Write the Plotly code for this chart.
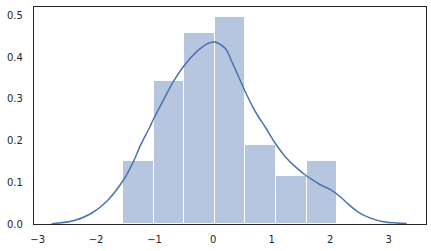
import plotly.graph_objects as go

# Histogram (density)
bin_edges = [-1.54, -1.017, -0.494, 0.029, 0.551, 1.074, 1.597, 2.12]
bar_density = [0.152, 0.342, 0.457, 0.495, 0.190, 0.114, 0.152]

# KDE curve points
kde_x = [-2.76, -2.39, -2.10, -1.82, -1.53, -1.36, -1.25, -1.08, -1.02, -0.85, -0.68,
         -0.51, -0.28, -0.11, 0.0, 0.034, 0.205, 0.32, 0.433, 0.547, 0.662, 0.775,
         0.889, 1.06, 1.23, 1.40, 1.57, 1.74, 1.83, 2.00, 2.17, 2.34, 2.51, 2.69,
         2.91, 3.14, 3.31]
kde_y = [0.0008, 0.008, 0.024, 0.054, 0.106, 0.150, 0.186, 0.233, 0.251, 0.297, 0.341,
         0.377, 0.413, 0.431, 0.436, 0.436, 0.421, 0.389, 0.354, 0.318, 0.285, 0.257,
         0.233, 0.194, 0.162, 0.138, 0.118, 0.102, 0.094, 0.083, 0.066, 0.044, 0.026,
         0.014, 0.0055, 0.0024, 0.0014]

x_ticks = [-3, -2, -1, 0, 1, 2, 3]
y_ticks = [0.0, 0.1, 0.2, 0.3, 0.4, 0.5]

centers = [(a + b) / 2 for a, b in zip(bin_edges[:-1], bin_edges[1:])]
widths = [b - a for a, b in zip(bin_edges[:-1], bin_edges[1:])]

fig = go.Figure()
fig.add_trace(go.Bar(
    x=centers, y=bar_density, width=widths,
    marker=dict(color="#B7C6DF", line=dict(color="white", width=1)),
    hoverinfo="skip",
))
fig.add_trace(go.Scatter(
    x=kde_x, y=kde_y, mode="lines", line=dict(color="#4C72B0", width=1.5, shape="spline"),
))

def fmt(v):
    s = f"{v:g}"
    return s.replace("-", "\u2212")

fig.update_layout(
    width=431, height=251,
    margin=dict(l=34, r=5, t=7, b=27),
    paper_bgcolor="white", plot_bgcolor="white",
    showlegend=False, bargap=0,
    font=dict(family="DejaVu Sans", size=10, color="#262626"),
    xaxis=dict(range=[-3.062, 3.64], tickvals=x_ticks, ticktext=[fmt(v) for v in x_ticks],
               showgrid=False, zeroline=False, showline=True, linecolor="#262626",
               linewidth=1.4, mirror=True, ticks="", ticklabelstandoff=6),
    yaxis=dict(range=[0, 0.52], tickvals=y_ticks, ticktext=[f"{v:.1f}" for v in y_ticks],
               showgrid=False, zeroline=False, showline=True, linecolor="#262626",
               linewidth=1.4, mirror=True, ticks="", ticklabelstandoff=8),
)

fig.write_html("out.html")
